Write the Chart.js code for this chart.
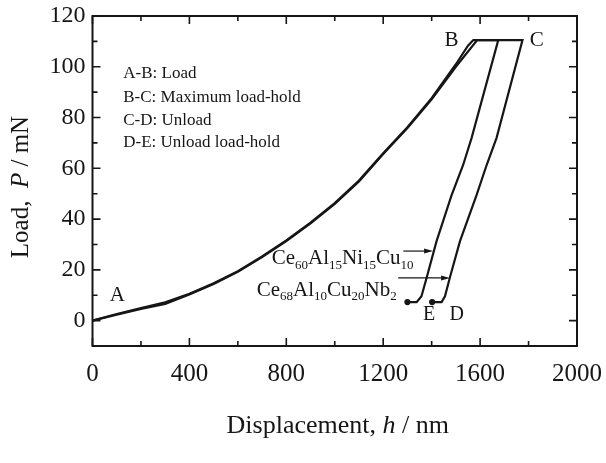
<!DOCTYPE html>
<html>
<head>
<meta charset="utf-8">
<script src="https://cdn.jsdelivr.net/npm/chart.js@4.4.0/dist/chart.umd.min.js"></script>
<style>
  html, body { margin: 0; padding: 0; background: #fff; }
  #wrap { width: 606px; height: 463px; }
</style>
</head>
<body>
<div id="wrap"><canvas id="chart"></canvas></div>
<script>
// displacement (nm) / load (mN)
const ce60Disp = [0, 100, 200, 300, 400, 500, 600, 700, 800, 900, 1000, 1100, 1200, 1300, 1400, 1500, 1550, 1572,
                  1675, 1565, 1530, 1482, 1420, 1379, 1358, 1338, 1300];
const ce60Load = [0, 2.6, 4.9, 7.2, 10.6, 14.7, 19.5, 25.3, 31.6, 38.6, 46.3, 55.2, 65.9, 76.2, 87.6, 101, 108.3, 110.5,
                  110.5, 72, 61.3, 49.3, 31.2, 16.8, 9.6, 7.3, 7.3];

const ce68Disp = [0, 100, 200, 300, 400, 500, 600, 700, 800, 900, 1000, 1100, 1200, 1300, 1400, 1500, 1588,
                  1775, 1668, 1627, 1585, 1517, 1475, 1455, 1441, 1402];
const ce68Load = [0, 2.3, 4.6, 6.6, 10.3, 14.4, 19.2, 25.0, 31.3, 38.3, 46.0, 54.8, 65.6, 75.9, 87.2, 100, 110.5,
                  110.5, 72, 61.3, 49.3, 31.3, 16.9, 9.6, 7.3, 7.3];

const xTicks = [0, 400, 800, 1200, 1600, 2000];
const yTicks = [0, 20, 40, 60, 80, 100, 120];

const stageNotes = ['A-B: Load', 'B-C: Maximum load-hold', 'C-D: Unload', 'D-E: Unload load-hold'];

const SERIF = "'Liberation Serif', 'Times New Roman', serif";
const INK = '#161616';

function toPoints(xs, ys) {
  return xs.map((v, i) => ({ x: v, y: ys[i] }));
}

function endDot(n) {
  return Array.from({ length: n }, (_, i) => (i === n - 1 ? 2 : 0));
}

// draws text runs: [text, 'sub' | 'it' | '']
function drawRuns(ctx, runs, x, y, size, align) {
  const subSize = Math.round(size * 0.64);
  let total = 0;
  runs.forEach(r => {
    ctx.font = (r[1] === 'it' ? 'italic ' : '') + (r[1] === 'sub' ? subSize : size) + 'px ' + SERIF;
    total += ctx.measureText(r[0]).width;
  });
  let cx = align === 'center' ? x - total / 2 : x;
  runs.forEach(r => {
    ctx.font = (r[1] === 'it' ? 'italic ' : '') + (r[1] === 'sub' ? subSize : size) + 'px ' + SERIF;
    ctx.fillText(r[0], cx, r[1] === 'sub' ? y + size * 0.22 : y);
    cx += ctx.measureText(r[0]).width;
  });
}

function arrow(ctx, x1, y1, x2, y2) {
  ctx.beginPath();
  ctx.moveTo(x1, y1);
  ctx.lineTo(x2 - 6, y2);
  ctx.stroke();
  ctx.beginPath();
  ctx.moveTo(x2, y2);
  ctx.lineTo(x2 - 9, y2 - 2.5);
  ctx.lineTo(x2 - 9, y2 + 2.5);
  ctx.closePath();
  ctx.fill();
}

const frameAndLabels = {
  id: 'frameAndLabels',
  afterDatasetsDraw(chart) {
    const { ctx, chartArea: a, scales: { x, y } } = chart;
    ctx.save();
    ctx.strokeStyle = INK;
    ctx.fillStyle = INK;

    // frame
    ctx.lineWidth = 2;
    ctx.strokeRect(a.left, a.top, a.right - a.left, a.bottom - a.top);

    // inward ticks on all four sides
    ctx.lineWidth = 1.6;
    ctx.beginPath();
    x.ticks.forEach(t => {
      const px = x.getPixelForValue(t.value);
      const len = t.value % 400 === 0 ? 8 : 5;
      ctx.moveTo(px, a.bottom); ctx.lineTo(px, a.bottom - len);
      ctx.moveTo(px, a.top); ctx.lineTo(px, a.top + len);
    });
    y.ticks.forEach(t => {
      const py = y.getPixelForValue(t.value);
      const len = t.value % 20 === 0 ? 8 : 5;
      ctx.moveTo(a.left, py); ctx.lineTo(a.left + len, py);
      ctx.moveTo(a.right, py); ctx.lineTo(a.right - len, py);
    });
    ctx.stroke();

    const X = v => x.getPixelForValue(v);
    const Y = v => y.getPixelForValue(v);

    // point letters
    ctx.textAlign = 'center';
    ctx.textBaseline = 'middle';
    ctx.font = '21px ' + SERIF;
    ctx.fillText('A', X(103), Y(9.9));
    ctx.fillText('B', X(1482), Y(110.5));
    ctx.fillText('C', X(1834), Y(110.2));
    ctx.font = '20px ' + SERIF;
    ctx.fillText('E', X(1389), Y(2.4));
    ctx.fillText('D', X(1504), Y(2.4));

    // stage notes
    ctx.textAlign = 'left';
    ctx.textBaseline = 'alphabetic';
    ctx.font = '17px ' + SERIF;
    const noteY = [95.5, 86.3, 77.2, 68.2];
    stageNotes.forEach((s, i) => ctx.fillText(s, X(127), Y(noteY[i])));

    // alloy names
    drawRuns(ctx, [['Ce', ''], ['60', 'sub'], ['Al', ''], ['15', 'sub'], ['Ni', ''], ['15', 'sub'], ['Cu', ''], ['10', 'sub']],
      X(740), Y(22.2), 21, 'left');
    drawRuns(ctx, [['Ce', ''], ['68', 'sub'], ['Al', ''], ['10', 'sub'], ['Cu', ''], ['20', 'sub'], ['Nb', ''], ['2', 'sub']],
      X(678), Y(9.8), 21, 'left');

    ctx.lineWidth = 1.2;
    arrow(ctx, X(1283), Y(27.4), X(1406), Y(27.4));
    arrow(ctx, X(1262), Y(16.8), X(1476), Y(16.8));

    // axis titles
    drawRuns(ctx, [['Displacement, ', ''], ['h', 'it'], [' / nm', '']], (a.left + a.right) / 2 + 3, a.bottom + 87, 26, 'center');
    ctx.save();
    ctx.translate(28, (a.top + a.bottom) / 2 + 6);
    ctx.rotate(-Math.PI / 2);
    drawRuns(ctx, [['Load,  ', ''], ['P', 'it'], [' / mN', '']], 0, 0, 25, 'center');
    ctx.restore();

    ctx.restore();
  }
};

const lineStyle = {
  borderColor: INK,
  backgroundColor: INK,
  borderWidth: 2.2,
  showLine: true,
  tension: 0,
  fill: false,
  pointHoverRadius: 0
};

new Chart(document.getElementById('chart'), {
  type: 'scatter',
  data: {
    datasets: [
      Object.assign({ label: 'Ce60Al15Ni15Cu10', data: toPoints(ce60Disp, ce60Load), pointRadius: endDot(ce60Disp.length) }, lineStyle),
      Object.assign({ label: 'Ce68Al10Cu20Nb2', data: toPoints(ce68Disp, ce68Load), pointRadius: endDot(ce68Disp.length) }, lineStyle)
    ]
  },
  options: {
    responsive: true,
    maintainAspectRatio: false,
    animation: false,
    layout: { padding: { left: 0, right: 29, top: 16, bottom: 0 } },
    plugins: {
      legend: { display: false },
      tooltip: { enabled: false }
    },
    scales: {
      x: {
        type: 'linear',
        min: 0,
        max: 2000,
        grid: { display: false, drawTicks: false },
        border: { display: false },
        afterFit: s => { s.height = 117; s.paddingLeft = 0; s.paddingRight = 0; },
        afterBuildTicks: s => { s.ticks = Array.from({ length: 11 }, (_, i) => ({ value: i * 200 })); },
        ticks: {
          autoSkip: false,
          maxRotation: 0,
          padding: 13,
          color: INK,
          font: { family: SERIF, size: 25 },
          callback: v => (xTicks.includes(v) ? String(v) : '')
        }
      },
      y: {
        type: 'linear',
        min: -10,
        max: 120,
        grid: { display: false, drawTicks: false },
        border: { display: false },
        afterFit: s => { s.width = 92.5; s.paddingTop = 0; s.paddingBottom = 0; },
        afterBuildTicks: s => { s.ticks = Array.from({ length: 14 }, (_, i) => ({ value: -10 + i * 10 })); },
        ticks: {
          autoSkip: false,
          padding: 7,
          color: INK,
          font: { family: SERIF, size: 24 },
          callback: v => (yTicks.includes(v) ? String(v) : '')
        }
      }
    }
  },
  plugins: [frameAndLabels]
});
</script>
</body>
</html>
